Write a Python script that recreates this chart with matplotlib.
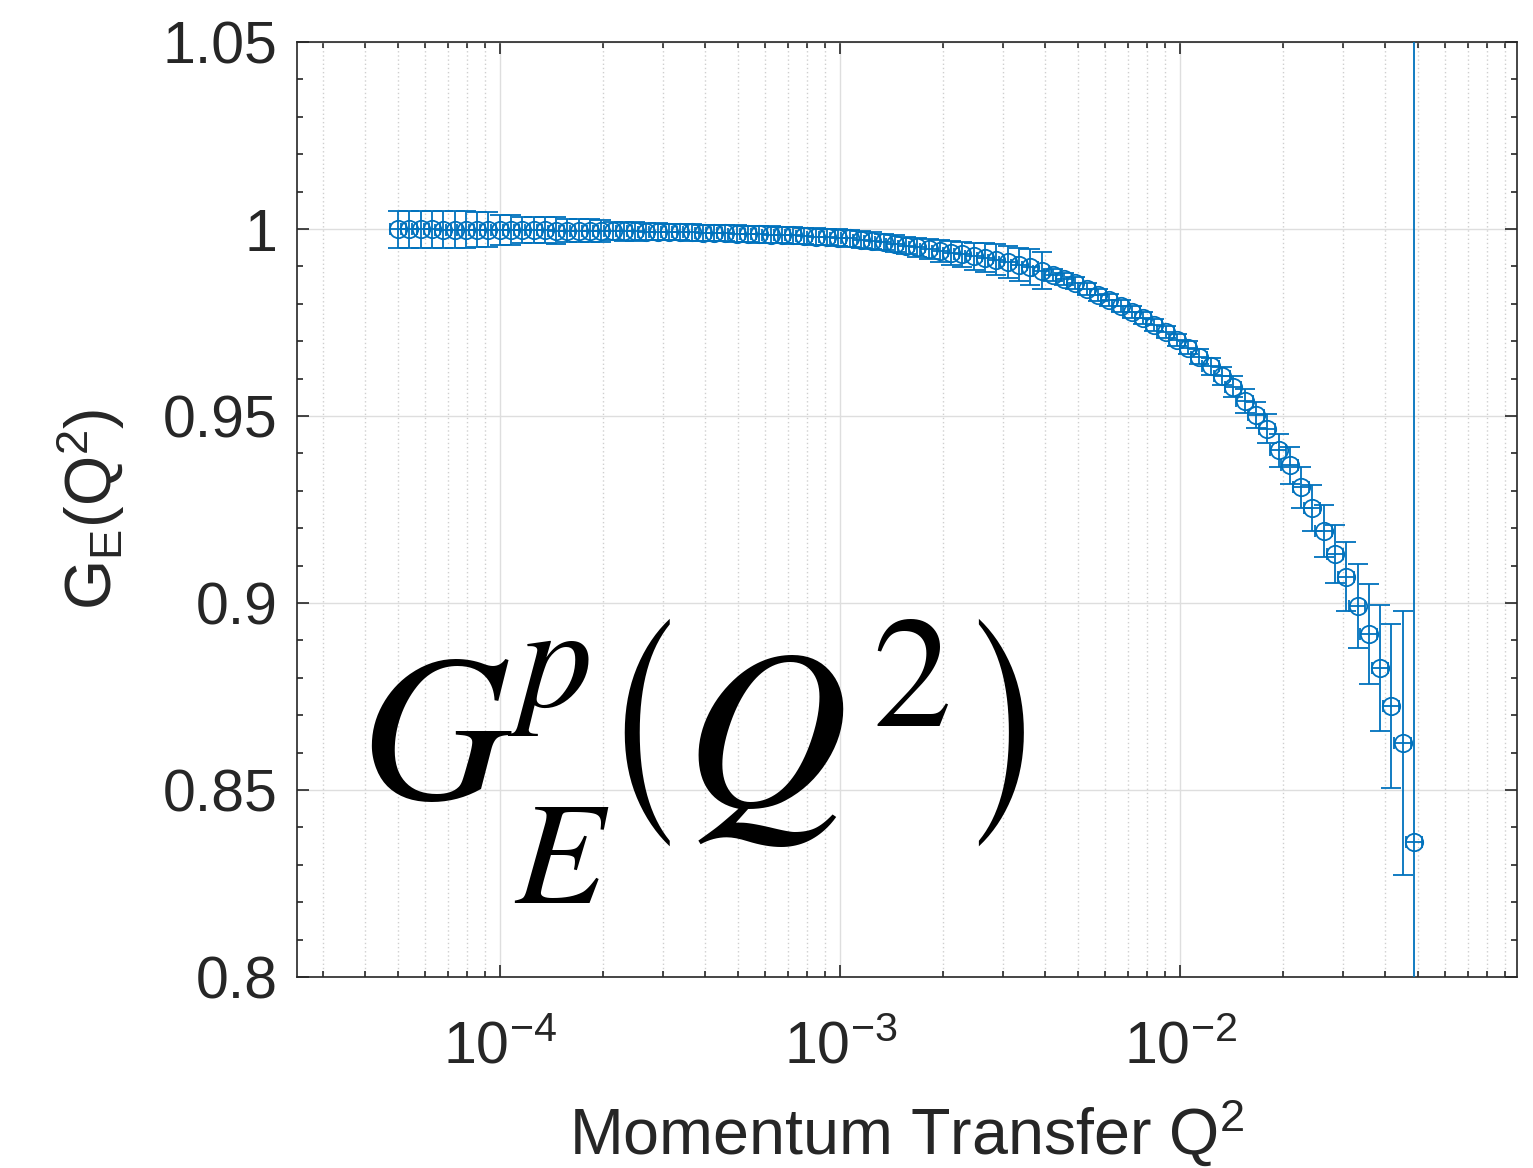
import math
import matplotlib
matplotlib.use("Agg")
import matplotlib.pyplot as plt
from matplotlib.ticker import MultipleLocator, FixedLocator, FuncFormatter, LogLocator

# momentum transfer Q^2 of each point
q2 = [
    5.00e-5, 5.40e-5, 5.83e-5, 6.29e-5, 6.79e-5, 7.33e-5, 7.91e-5, 8.54e-5, 9.22e-5, 9.95e-5,
    1.074e-4, 1.160e-4, 1.252e-4, 1.351e-4, 1.459e-4, 1.574e-4, 1.699e-4, 1.834e-4, 1.980e-4, 2.137e-4,
    2.307e-4, 2.490e-4, 2.688e-4, 2.901e-4, 3.132e-4, 3.381e-4, 3.649e-4, 3.939e-4, 4.252e-4, 4.590e-4,
    4.954e-4, 5.348e-4, 5.773e-4, 6.232e-4, 6.727e-4, 7.261e-4, 7.838e-4, 8.461e-4, 9.133e-4, 9.860e-4,
    1.064e-3, 1.149e-3, 1.240e-3, 1.339e-3, 1.445e-3, 1.560e-3, 1.684e-3, 1.818e-3, 1.962e-3, 2.118e-3,
    2.286e-3, 2.468e-3, 2.664e-3, 2.876e-3, 3.104e-3, 3.350e-3, 3.617e-3, 3.904e-3, 4.214e-3, 4.549e-3,
    4.911e-3, 5.301e-3, 5.722e-3, 6.177e-3, 6.667e-3, 7.197e-3, 7.769e-3, 8.386e-3, 9.052e-3, 9.771e-3,
    1.055e-2, 1.138e-2, 1.229e-2, 1.326e-2, 1.432e-2, 1.546e-2, 1.668e-2, 1.801e-2, 1.944e-2, 2.098e-2,
    2.265e-2, 2.445e-2, 2.639e-2, 2.849e-2, 3.075e-2, 3.319e-2, 3.583e-2, 3.868e-2, 4.175e-2, 4.507e-2,
    4.865e-2,
]

# form factor values
ge = [
    0.9999, 0.9999, 0.9999, 0.9999, 0.9998, 0.9998, 0.9998, 0.9998, 0.9998, 0.9998,
    0.9997, 0.9997, 0.9997, 0.9997, 0.9996, 0.9996, 0.9996, 0.9996, 0.9995, 0.9995,
    0.9994, 0.9994, 0.9993, 0.9993, 0.9992, 0.9992, 0.9991, 0.9990, 0.9990, 0.9989,
    0.9988, 0.9987, 0.9986, 0.9985, 0.9984, 0.9983, 0.9982, 0.9980, 0.9979, 0.9977,
    0.9975, 0.9972, 0.9969, 0.9965, 0.9961, 0.9956, 0.9951, 0.9946, 0.9941, 0.9937,
    0.9932, 0.9927, 0.9923, 0.9918, 0.9912, 0.9905, 0.9898, 0.9889, 0.9878, 0.9866,
    0.9855, 0.9839, 0.9824, 0.9809, 0.9793, 0.9777, 0.9761, 0.9744, 0.9724, 0.9704,
    0.9683, 0.9659, 0.9633, 0.9607, 0.9578, 0.9540, 0.9503, 0.9466, 0.9409, 0.9368,
    0.9310, 0.9254, 0.9193, 0.9131, 0.9070, 0.8992, 0.8917, 0.8826, 0.8725, 0.8626,
    0.8361,
]

# vertical error bar half-widths
ge_err = [
    0.0050, 0.0050, 0.0050, 0.0050, 0.0050, 0.0050, 0.0050, 0.0047, 0.0047, 0.0040,
    0.0040, 0.0035, 0.0035, 0.0035, 0.0035, 0.0030, 0.0030, 0.0030, 0.0030, 0.0025,
    0.0025, 0.0025, 0.0022, 0.0022, 0.0022, 0.0022, 0.0022, 0.0022, 0.0022, 0.0022,
    0.0022, 0.0022, 0.0022, 0.0022, 0.0022, 0.0022, 0.0022, 0.0022, 0.0022, 0.0022,
    0.0022, 0.0022, 0.0022, 0.0022, 0.0022, 0.0022, 0.0025, 0.0027, 0.0030, 0.0032,
    0.0034, 0.0036, 0.0039, 0.0041, 0.0043, 0.0045, 0.0048, 0.0050, 0.0016, 0.0016,
    0.0016, 0.0016, 0.0016, 0.0016, 0.0016, 0.0016, 0.0016, 0.0016, 0.0016, 0.0016,
    0.0018, 0.0020, 0.0022, 0.0025, 0.0028, 0.0031, 0.0035, 0.0039, 0.0044, 0.0050,
    0.0055, 0.0062, 0.0069, 0.0077, 0.0092, 0.0112, 0.0134, 0.0169, 0.0220, 0.0353,
    0.2500,
]

q2_rel_err = 0.055  # horizontal bars span about the marker width

y_ticks = [0.8, 0.85, 0.9, 0.95, 1.0, 1.05]
y_tick_labels = ["0.8", "0.85", "0.9", "0.95", "1", "1.05"]

BLUE = "#0072BD"
AXC = "#262626"
W, H = 1533, 1168

plt.rcParams["font.family"] = ["Liberation Sans", "DejaVu Sans"]
plt.rcParams["mathtext.fontset"] = "custom"
plt.rcParams["mathtext.rm"] = "Liberation Sans"
plt.rcParams["mathtext.it"] = "Liberation Sans:italic"

fig = plt.figure(figsize=(W / 100, H / 100), dpi=100)
ax = fig.add_axes([0.1937, 0.1635, 0.7959, 0.8005])

ax.errorbar(q2, ge, yerr=ge_err, fmt="o", color=BLUE, mfc="none", mec=BLUE,
            ms=12.5, mew=1.3, elinewidth=1.3, capsize=7.2, capthick=1.3, zorder=3)
ax.errorbar(q2, ge, xerr=[q * q2_rel_err for q in q2], fmt="none", ecolor=BLUE,
            elinewidth=1.3, capsize=4, capthick=1.3, zorder=3)

ax.set_xscale("log")
ax.set_xlim(2.52e-5, 0.0978)
ax.set_ylim(0.8, 1.05)

ax.xaxis.set_major_locator(FixedLocator([1e-4, 1e-3, 1e-2]))
ax.xaxis.set_minor_locator(LogLocator(base=10, subs=range(2, 10)))
ax.xaxis.set_major_formatter(FuncFormatter(
    lambda v, p: r"$\mathregular{10^{%d}}$" % round(math.log10(v))))
ax.yaxis.set_major_locator(FixedLocator(y_ticks))
ax.yaxis.set_major_formatter(FuncFormatter(
    lambda v, p: y_tick_labels[p] if p is not None and p < len(y_tick_labels) else ""))
ax.yaxis.set_minor_locator(MultipleLocator(0.01))

ax.grid(which="major", color="#dedede", lw=1.0, ls="-", zorder=0)
ax.xaxis.grid(which="minor", color="#cfcfcf", lw=1.0, ls=(0, (1, 2)), zorder=0)
ax.set_axisbelow(True)

for s in ax.spines.values():
    s.set_color(AXC)
    s.set_linewidth(1.2)
ax.tick_params(which="both", direction="in", top=True, right=True, colors=AXC,
               width=1.2, labelsize=42.5, labelcolor=AXC)
ax.tick_params(which="major", length=8.5)
ax.tick_params(which="minor", length=4.3)
ax.tick_params(axis="x", which="major", pad=31)
ax.tick_params(axis="y", which="major", pad=14)

ax.set_xlabel(r"Momentum Transfer $\mathregular{Q^2}$", fontsize=46.5, color=AXC, labelpad=16)
ax.set_ylabel(r"$\mathregular{G_E(Q^2)}$", fontsize=46.5, color=AXC, labelpad=26)


def big_text(x, y, s, size):
    # place a piece of the large formula by its pixel position (left, baseline)
    fig.text(x / W, 1 - y / H, s, fontsize=size, math_fontfamily="stix",
             color="black", ha="left", va="baseline")


# big overlay label G_E^p(Q^2), built from pieces so the scripts sit like the original
big_text(360, 798, r"$G$", 150)
big_text(507, 706, r"$p$", 106)
big_text(514, 903, r"$E$", 106)
big_text(598, 806, r"$\left(Q^2\right)$", 163)

fig.savefig("out.png", dpi=100)
plt.close(fig)
